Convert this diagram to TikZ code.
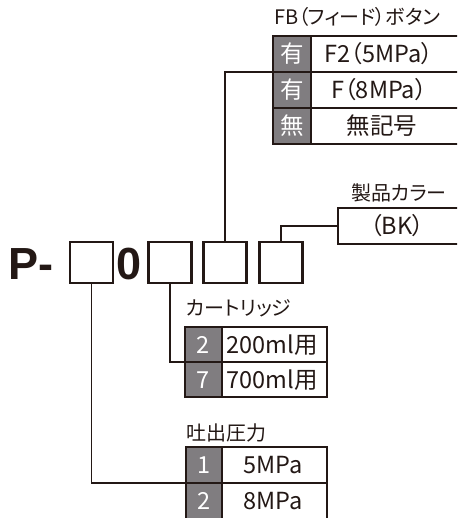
\documentclass[tikz,border=0pt]{standalone}
\usepackage{fontspec}
\setmainfont{Noto Sans CJK JP}[RawFeature=+palt]
\newfontfamily\latinbold{Liberation Sans}
\definecolor{inkdark}{RGB}{35,24,21}
\definecolor{cellgray}{RGB}{128,125,128}

\begin{document}
\begin{tikzpicture}[x=1pt,y=-1pt,
    title/.style={anchor=west, inner sep=0pt, text height=15.2pt, text depth=0pt,
      font=\fontsize{20}{20}\selectfont, text=inkdark},
    cell/.style={inner sep=0pt, text height=17.8pt, text depth=0pt,
      font=\fontsize{23.5}{23.5}\selectfont, text=inkdark},
    keycell/.style={cell, text=white},
    bigcode/.style={inner sep=0pt, text height=32.2pt, text depth=0pt,
      font=\latinbold\bfseries\fontsize{45}{45}\selectfont, text=inkdark},
    digitbox/.style={draw=inkdark, line width=2.5pt, minimum width=43pt,
      minimum height=41pt, inner sep=0pt},
    wire/.style={draw=inkdark, line width=1.2pt},
    tablegrid/.style={draw=inkdark, line width=1.5pt}]

  \clip (0,0) rectangle (457,518);

  % model code
  \node[bigcode, anchor=west] (prefix) at (8,263) {P-};
  \node[digitbox] (d1) at (91.5,262.5) {};
  \node[bigcode] (zero) at (129.5,263) {0};
  \node[digitbox] (d2) at (170,262.5) {};
  \node[digitbox] (d3) at (225,262.5) {};
  \node[digitbox] (d4) at (281,262.5) {};

  % FB button
  \node[title] (fbtitle) at (274,17) {FB（フィード）ボタン};
  \fill[cellgray] (273,36) rectangle (311,144);
  \draw[tablegrid] (273,36) rectangle (470,144);
  \draw[tablegrid] (273,72) -- (470,72) (273,108) -- (470,108) (311,36) -- (311,144);
  \node[keycell] (fbk1) at (292,54) {有};
  \node[keycell] (fbk2) at (292,90) {有};
  \node[keycell] (fbk3) at (292,126) {無};
  \node[cell] (fbv1) at (379,54) {F2（5MPa）};
  \node[cell] (fbv2) at (379,90) {F（8MPa）};
  \node[cell] (fbv3) at (382,126) {無記号};
  \coordinate (fbin) at (273,72);
  \draw[wire] (d3.north) |- (fbin);

  % colour
  \node[title] (bktitle) at (351,193) {製品カラー};
  \draw[tablegrid] (338,208) rectangle (470,244);
  \node[cell] (bkv) at (397,226) {（BK）};
  \coordinate (bkin) at (338,226);
  \draw[wire] (d4.north) |- (bkin);

  % cartridge
  \node[title] (carttitle) at (186,308) {カートリッジ};
  \fill[cellgray] (185,327) rectangle (222,397);
  \draw[tablegrid] (185,327) rectangle (327,397);
  \draw[tablegrid] (185,362) -- (327,362) (222,327) -- (222,397);
  \node[keycell] (cartk1) at (203.5,344.5) {2};
  \node[keycell] (cartk2) at (203.5,379.5) {7};
  \node[cell] (cartv1) at (272,344.5) {200ml用};
  \node[cell] (cartv2) at (272,379.5) {700ml用};
  \coordinate (cartin) at (185,362);
  \draw[wire] (d2.south) |- (cartin);

  % pressure
  \node[title] (prestitle) at (186,433) {吐出圧力};
  \fill[cellgray] (186,447) rectangle (222,522);
  \draw[tablegrid] (186,447) rectangle (327,522);
  \draw[tablegrid] (186,483) -- (327,483) (222,447) -- (222,522);
  \node[keycell] (presk1) at (204,465) {1};
  \node[keycell] (presk2) at (204,501) {2};
  \node[cell] (presv1) at (273,465) {5MPa};
  \node[cell] (presv2) at (273,501) {8MPa};
  \coordinate (presin) at (186,483);
  \draw[wire] (d1.south) |- (presin);

\end{tikzpicture}
\end{document}
